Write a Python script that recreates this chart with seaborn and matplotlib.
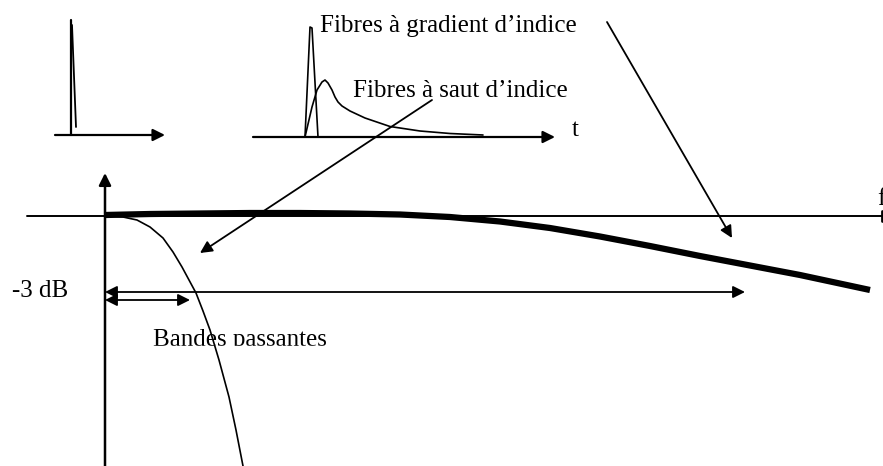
import numpy as np
import pandas as pd
import matplotlib.pyplot as plt
import seaborn as sns
from matplotlib.patches import Rectangle

# diagram coordinates (pixels of the original drawing, y pointing down)
# transfer function of graded-index fibre (thick) and step-index fibre (thin)
graded_x = [105, 150, 200, 250, 300, 350, 400, 450, 500, 550, 600, 650, 700, 750, 800, 870]
graded_y = [215, 214, 213.5, 213, 213, 213.5, 214.5, 217, 221.5, 228, 236.5, 246, 256, 265.5, 275, 290]
step_x = [105, 115, 123, 137, 150, 163, 173, 182, 189, 196, 203, 210, 219, 229, 236, 243]
step_y = [216, 216.5, 217, 220, 227, 238, 252, 267, 280, 293, 311, 330, 360, 397, 430, 466]

# impulse responses
pulse_in_x = [72, 76]
pulse_in_y = [25, 127]
spike_x = [305, 310, 312, 318]
spike_y = [137, 27, 28, 137]
broad_x = [305, 312, 317, 322, 325, 328, 332, 335, 338, 342, 350, 365, 390, 420, 450, 483]
broad_y = [137, 107, 90, 82, 80, 83, 90, 97, 102, 106, 111, 118, 126.5, 131, 133.5, 135]

sns.set_style("white")
plt.rcParams['font.family'] = ['Liberation Serif', 'DejaVu Serif']
plt.rcParams['text.color'] = 'black'

fig = plt.figure(figsize=(8.83, 4.66), dpi=100)
ax = fig.add_axes([0, 0, 1, 1])
ax.set_xlim(0, 883)
ax.set_ylim(466, 0)
ax.axis('off')

def arrow(start, end, style='-|>', lw=1.3, ms=18):
    ax.annotate('', xy=end, xytext=start,
                arrowprops=dict(arrowstyle=style, color='black', lw=lw,
                                mutation_scale=ms, shrinkA=0, shrinkB=0))

# small time axes
arrow((55, 135), (165, 135), lw=1.6)
ax.plot([71, 71], [20, 135], color='black', lw=1.6)
sns.lineplot(x=pulse_in_x, y=pulse_in_y, sort=False, color='black', lw=1.3, ax=ax)
arrow((253, 137), (555, 137), lw=1.6)
sns.lineplot(x=spike_x, y=spike_y, sort=False, color='black', lw=1.2, ax=ax)
sns.lineplot(x=broad_x, y=broad_y, sort=False, color='black', lw=1.2, ax=ax)

# main frequency axes
arrow((105, 466), (105, 173), lw=1.8)
ax.plot([27, 883], [216, 216], color='black', lw=1.4)
ax.plot([882, 882], [211, 221], color='black', lw=2)

sns.lineplot(x=graded_x, y=graded_y, sort=False, color='black', lw=4.5,
             ax=ax, solid_capstyle='butt')

# bandwidth arrows
arrow((105, 292), (745, 292), style='<|-|>', lw=1.3)
arrow((105, 300), (190, 300), style='<|-|>', lw=1.3)

# labels with pointers
arrow((607, 22), (732, 238), lw=1.3)
arrow((432, 100), (200, 253), lw=1.3)

fs = 18
ax.text(320, 32, "Fibres à gradient d’indice", fontsize=fs, va='baseline')
ax.text(353, 97, "Fibres à saut d’indice", fontsize=fs, va='baseline')
ax.text(572, 136, "t", fontsize=fs, va='baseline')
ax.text(877, 205, "f", fontsize=fs, va='baseline')
ax.text(12, 297, "-3 dB", fontsize=fs, va='baseline')
ax.text(153, 346, "Bandes passantes", fontsize=fs, va='baseline', zorder=3)
# the label is cut just below its baseline in the original
ax.add_patch(Rectangle((145, 345.5), 200, 14, color='white', zorder=4))

sns.lineplot(x=step_x, y=step_y, sort=False, color='black', lw=1.2, ax=ax, zorder=5)

fig.savefig('out.png', dpi=100)
